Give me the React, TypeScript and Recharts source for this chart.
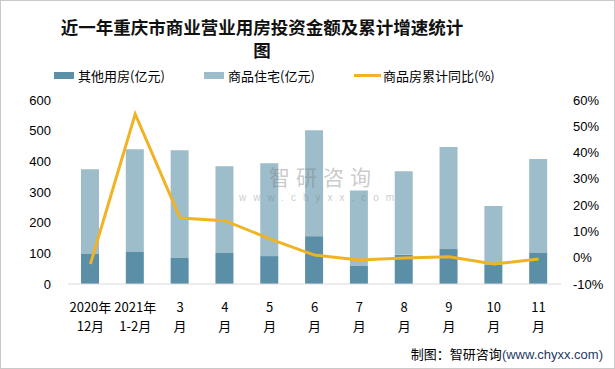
import React from 'react';
import { ComposedChart, Bar, Line, XAxis, YAxis } from 'recharts';

const months = ['2020年|12月', '2021年|1-2月', '3|月', '4|月', '5|月', '6|月', '7|月', '8|月', '9|月', '10|月', '11|月'];
const otherHousing = [98, 104, 85, 101, 91, 156, 59, 95, 114, 64, 101];
const residential = [276, 335, 351, 283, 303, 345, 246, 273, 333, 190, 307];
const yoyGrowth = [-2.4, 54.6, 15.1, 14.1, 7.2, 1.0, -0.9, -0.1, 0.4, -2.4, -0.5];
const leftTicks = [0, 100, 200, 300, 400, 500, 600];
const rightTicks = [-10, 0, 10, 20, 30, 40, 50, 60];

const rows = months.map((m, i) => ({
    month: m,
    other: otherHousing[i],
    res: residential[i],
    yoy: yoyGrowth[i],
}));

const cjk = '"Noto Sans CJK SC", "Noto Sans", sans-serif';
const DARK = '#5b8fa8';
const LIGHT = '#9ebdca';
const GOLD = '#f0b323';

function MonthTick(props: any) {
    const { x, y, payload } = props;
    const [a, b] = String(payload.value).split('|');
    return (
        <g transform={`translate(${x},${y})`}>
            <text textAnchor="middle" fontSize={13} fontFamily={cjk} fill="#000">
                <tspan x={0} dy={20}>{a}</tspan>
                <tspan x={0} dy={19}>{b}</tspan>
            </text>
        </g>
    );
}

function LegendBox() {
    const item = (left: number, label: string, kind: 'dark' | 'light' | 'line') => (
        <div style={{ position: 'absolute', left, top: 0, display: 'flex', alignItems: 'center', height: 18 }}>
            {kind === 'line'
                ? <span style={{ width: 27, height: 3, background: GOLD, marginRight: 2 }} />
                : <span style={{ width: 20, height: 7, background: kind === 'dark' ? DARK : LIGHT, marginRight: 4 }} />}
            <span style={{ fontSize: 13, fontFamily: cjk, color: '#000', whiteSpace: 'nowrap' }}>{label}</span>
        </div>
    );
    return (
        <div style={{ position: 'absolute', left: 0, top: 65, width: 615, height: 18 }}>
            {item(53, '其他用房(亿元)', 'dark')}
            {item(203, '商品住宅(亿元)', 'light')}
            {item(353, '商品房累计同比(%)', 'line')}
        </div>
    );
}

export default function App() {
    return (
        <div style={{ position: 'absolute', left: 0, top: 0, width: 615, height: 369, background: '#fff', boxSizing: 'border-box', border: '1px solid #c9c9c9' }}>
            <div style={{ position: 'absolute', left: 0, top: 0 }}>
                <ComposedChart width={615} height={369} data={rows} margin={{ top: 99, right: 0, bottom: 46, left: 0 }} barCategoryGap={0}>
                    <XAxis dataKey="month" interval={0} tick={<MonthTick />} tickLine={false} axisLine={{ stroke: '#d9d9d9' }} height={40} />
                    <YAxis yAxisId="l" domain={[0, 600]} ticks={leftTicks} width={67} axisLine={false} tickLine={false} tickSize={0} tickMargin={17}
                        tick={{ fill: '#000', fontSize: 13, fontFamily: '"Liberation Sans", sans-serif' }} />
                    <YAxis yAxisId="r" orientation="right" domain={[-10, 60]} ticks={rightTicks} width={55} axisLine={false} tickLine={false} tickSize={0} tickMargin={12}
                        tickFormatter={(v: number) => `${v}%`}
                        tick={{ fill: '#000', fontSize: 13, fontFamily: '"Liberation Sans", sans-serif', textAnchor: 'start' }} />
                    <Bar yAxisId="l" dataKey="other" name="其他用房(亿元)" stackId="s" fill={DARK} barSize={18} isAnimationActive={false} />
                    <Bar yAxisId="l" dataKey="res" name="商品住宅(亿元)" stackId="s" fill={LIGHT} barSize={18} isAnimationActive={false} />
                    <Line yAxisId="r" dataKey="yoy" name="商品房累计同比(%)" stroke={GOLD} strokeWidth={3} dot={false} type="linear" isAnimationActive={false} />
                </ComposedChart>
            </div>
            <LegendBox />
            <div style={{ position: 'absolute', left: 0, width: 522, top: 14, textAlign: 'center', fontFamily: cjk, fontWeight: 700, fontSize: 17.5, lineHeight: '23px', color: '#111' }}>
                近一年重庆市商业营业用房投资金额及累计增速统计<br />图
            </div>
            <div style={{ position: 'absolute', left: 268, top: 162, fontFamily: cjk, fontSize: 21, lineHeight: '26px', color: 'rgba(120,120,120,0.4)', letterSpacing: 6 }}>智研咨询</div>
            <div style={{ position: 'absolute', left: 238, top: 191, fontFamily: '"Liberation Sans", sans-serif', fontSize: 10, lineHeight: '12px', color: 'rgba(120,120,120,0.4)', letterSpacing: 7 }}>www.chyxx.com</div>
            <div style={{ position: 'absolute', right: 11, top: 343, fontFamily: cjk, fontSize: 13, color: '#000', whiteSpace: 'nowrap' }}>
                制图：智研咨询<span style={{ color: '#1f3a5f', fontFamily: '"Liberation Sans", sans-serif' }}>(www.chyxx.com)</span>
            </div>
        </div>
    );
}
